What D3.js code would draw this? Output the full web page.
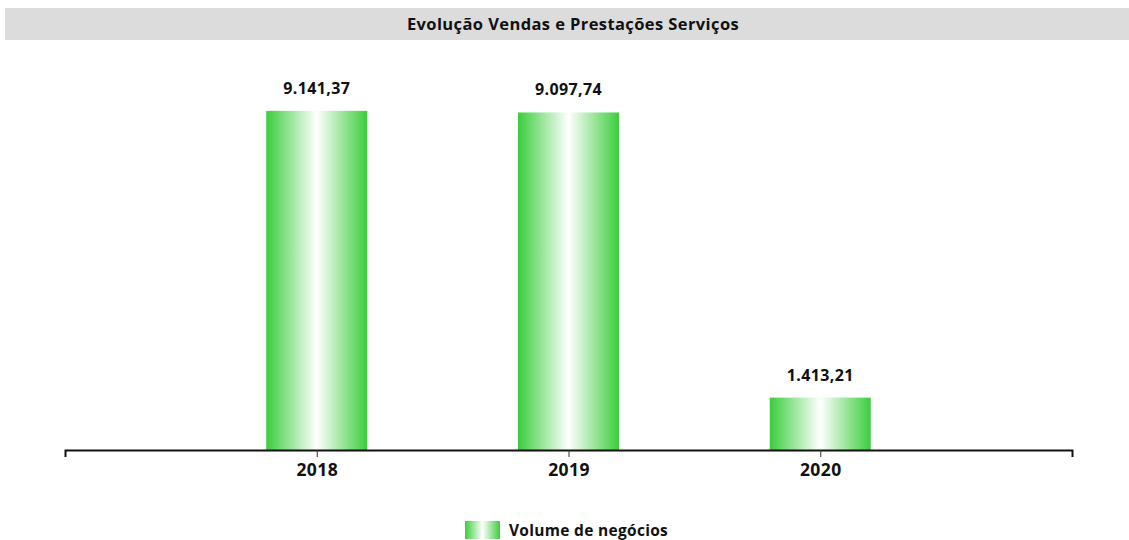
<!DOCTYPE html>
<html><head><meta charset="utf-8">
<script src="https://cdn.jsdelivr.net/npm/d3@7"></script>
<style>body{margin:0;background:#fff}svg{display:block}text{font-family:"Open Sans","Noto Sans",sans-serif}</style>
</head><body>
<script>
const categories = ["2018", "2019", "2020"];
const values = [9141.37, 9097.74, 1413.21];
const valueLabels = ["9.141,37", "9.097,74", "1.413,21"];
const seriesName = "Volume de negócios";
const title = "Evolução Vendas e Prestações Serviços";

const W = 1129, H = 540;
const svg = d3.select("body").append("svg").attr("width", W).attr("height", H);

const defs = svg.append("defs");
const grad = defs.append("linearGradient").attr("id", "g").attr("x1", "0%").attr("x2", "100%").attr("y1", "0%").attr("y2", "0%");
grad.append("stop").attr("offset", "0%").attr("stop-color", "#3ccd3c");
grad.append("stop").attr("offset", "50%").attr("stop-color", "#ffffff");
grad.append("stop").attr("offset", "100%").attr("stop-color", "#3ccd3c");

// title bar
svg.append("rect").attr("x", 5).attr("y", 8).attr("width", W - 5).attr("height", 32).attr("fill", "#dcdcdc");
svg.append("text").attr("x", 573).attr("y", 30).attr("text-anchor", "middle")
  .attr("font-size", 16.5).attr("letter-spacing", 0.4).attr("font-weight", "bold").attr("fill", "#111").text(title);

const x0 = 65, x1 = 1072, base = 450;
const x = d3.scalePoint().domain(categories).range([x0, x1]).padding(1);
const y = d3.scaleLinear().domain([0, 10000]).range([base, 79]);
const bw = 101;

svg.selectAll("rect.bar").data(values).join("rect").attr("class", "bar")
  .attr("x", (d, i) => x(categories[i]) - bw / 2).attr("width", bw)
  .attr("y", d => y(d)).attr("height", d => base - y(d)).attr("fill", "url(#g)");

svg.selectAll("text.val").data(values).join("text").attr("class", "val")
  .attr("x", (d, i) => x(categories[i])).attr("y", d => y(d) - 17)
  .attr("text-anchor", "middle").attr("font-size", 16).attr("letter-spacing", 0.4).attr("font-weight", "bold").attr("fill", "#111")
  .text((d, i) => valueLabels[i]);

const axis = d3.axisBottom(x).tickSize(7).tickSizeOuter(7).tickPadding(7);
const ag = svg.append("g").attr("transform", `translate(0,${base})`).call(axis);
ag.select(".domain").attr("stroke", "#111").attr("stroke-width", 2);
ag.selectAll(".tick line").attr("stroke", "#333");
ag.selectAll(".tick text").attr("font-size", 17.5).attr("letter-spacing", 0.4).attr("font-weight", "bold").attr("fill", "#111")
  .attr("font-family", '"Open Sans","Noto Sans",sans-serif');

// legend
svg.append("rect").attr("x", 465).attr("y", 521).attr("width", 35).attr("height", 18).attr("fill", "url(#g)");
svg.append("text").attr("x", 509).attr("y", 536).attr("font-size", 15.5).attr("letter-spacing", 0.3).attr("font-weight", "bold").attr("fill", "#111").text(seriesName);
</script>
</body></html>
